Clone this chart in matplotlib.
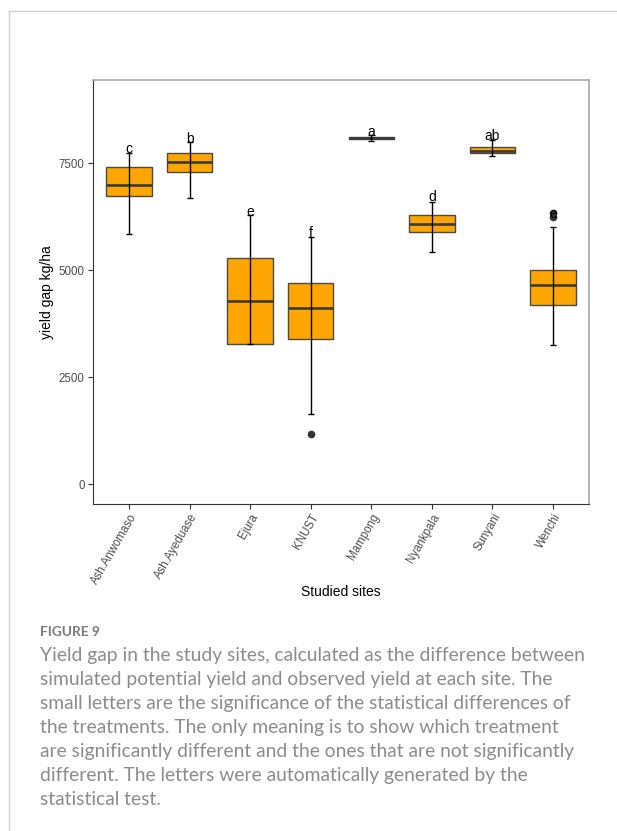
import matplotlib
matplotlib.use("Agg")
import matplotlib.pyplot as plt
from matplotlib.lines import Line2D

sites = ["Ash.Anwomaso", "Ash.Ayeduase", "Ejura", "KNUST",
         "Mampong", "Nyankpala", "Sunyani", "Wenchi"]

# box stats (kg/ha)
q1 = [6730, 7300, 3280, 3400, 8060, 5880, 7740, 4190]
med = [6990, 7515, 4280, 4105, 8080, 6080, 7770, 4650]
q3 = [7400, 7735, 5290, 4700, 8100, 6290, 7865, 4995]
whislo = [5840, 6680, 3280, 1635, 8005, 5415, 7670, 3240]
whishi = [7730, 8000, 6290, 5780, 8150, 6600, 8035, 5995]
outliers = [[], [], [], [1175], [], [], [], [6325, 6245]]

letters = ["c", "b", "e", "f", "a", "d", "ab", "e"]
letter_y = [7820, 8060, 6360, 5860, 8230, 6710, 8130, 6320]

yticks = [0, 2500, 5000, 7500]

caption = [
    "Yield gap in the study sites, calculated as the difference between",
    "simulated potential yield and observed yield at each site. The",
    "small letters are the significance of the statistical differences of",
    "the treatments. The only meaning is to show which treatment",
    "are significantly different and the ones that are not significantly",
    "different. The letters were automatically generated by the",
    "statistical test.",
]

W, H = 617, 831
fig = plt.figure(figsize=(W / 100, H / 100), dpi=100)
plt.rcParams['font.family'] = ['Liberation Sans', 'DejaVu Sans']

ax = fig.add_axes([92.7 / W, 1 - 503.5 / H, (589.3 - 92.7) / W, (503.5 - 80) / H])

pos = list(range(1, len(sites) + 1))
stats = []
for i in range(len(sites)):
    stats.append(dict(med=med[i], q1=q1[i], q3=q3[i], whislo=whislo[i],
                      whishi=whishi[i], fliers=outliers[i]))

ax.bxp(stats, positions=pos, widths=0.75, patch_artist=True,
       showcaps=False,
       boxprops=dict(facecolor="#FFA500", edgecolor="#4a4a4a", linewidth=1.0),
       medianprops=dict(color="#3a3a3a", linewidth=1.9),
       whiskerprops=dict(linestyle="none"),
       flierprops=dict(marker="o", markerfacecolor="#333333",
                       markeredgecolor="#333333", markersize=4.5))

# errorbar-style whiskers through the box
ax.vlines(pos, whislo, whishi, color="black", linewidth=1.0, zorder=4)
cap = 0.05
ax.hlines(whislo, [p - cap for p in pos], [p + cap for p in pos],
          color="black", linewidth=1.0, zorder=4)
ax.hlines(whishi, [p - cap for p in pos], [p + cap for p in pos],
          color="black", linewidth=1.0, zorder=4)

for p, lab, y in zip(pos, letters, letter_y):
    ax.text(p, y, lab, ha="center", va="center", fontsize=10, color="black", zorder=5)

ax.set_xlim(0.4, 8.6)
ax.set_ylim(-455, 9440)
ax.set_yticks(yticks)
ax.set_yticklabels([str(v) for v in yticks])
ax.set_xticks(pos)
ax.set_xticklabels(sites, rotation=60, ha="right", va="top", rotation_mode="anchor")

ax.tick_params(axis="both", colors="#333333", labelcolor="#4D4D4D",
               labelsize=8.3, length=3.8, width=0.8, pad=2)

for s in ["top", "right"]:
    ax.spines[s].set_color("#A8A8A8")
    ax.spines[s].set_linewidth(1.2)
for s in ["left", "bottom"]:
    ax.spines[s].set_color("#333333")
    ax.spines[s].set_linewidth(0.8)

ax.set_xlabel("Studied sites", fontsize=10, color="black")
ax.set_ylabel("yield gap kg/ha", fontsize=10, color="black")
ax.xaxis.set_label_coords(0.5, -0.193)
ax.yaxis.set_label_coords(-0.077, 0.5)

# card border
fig.add_artist(Line2D([9 / W, 9 / W], [0, 1 - 11 / H], transform=fig.transFigure,
                      color="#D0D0D0", linewidth=1.0))
fig.add_artist(Line2D([9 / W, 1], [1 - 11 / H, 1 - 11 / H], transform=fig.transFigure,
                      color="#D0D0D0", linewidth=1.0))

fig.text(40 / W, 1 - 636 / H, "FIGURE 9", fontsize=9.8, color="#7a7a7a",
         fontweight="bold", family=["Lato", "DejaVu Sans"], va="baseline")
for k, line in enumerate(caption):
    fig.text(40 / W, 1 - (661 + 24 * k) / H, line, fontsize=13.9, color="#8c8c8c",
             family=["Lato", "DejaVu Sans"], va="baseline")

fig.savefig("out.png", dpi=100, facecolor="white")
